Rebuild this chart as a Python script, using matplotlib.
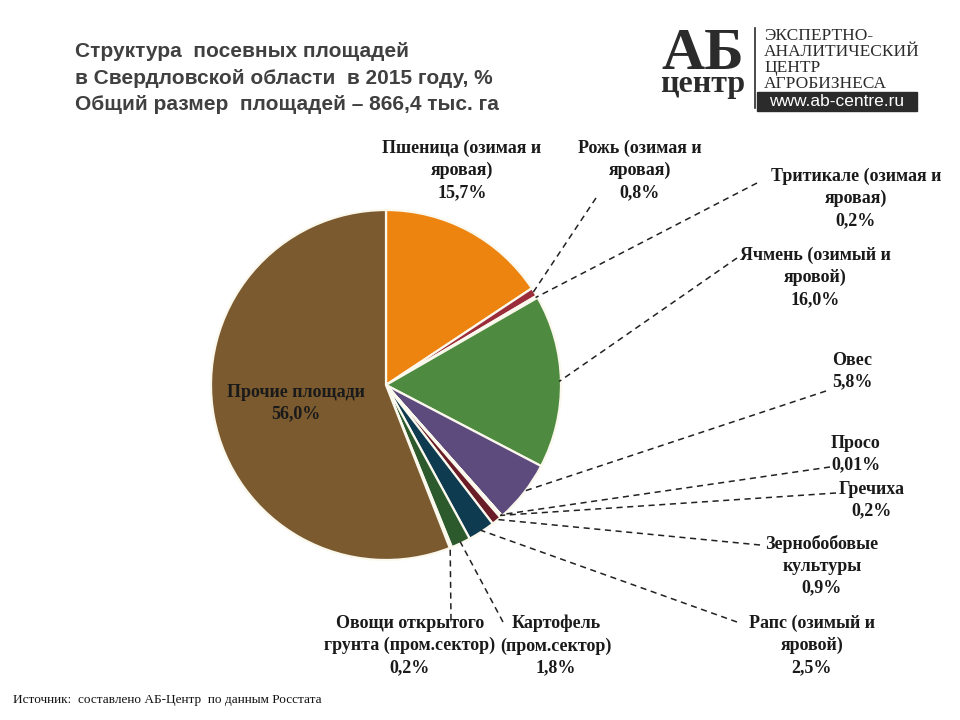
import numpy as np
import matplotlib
matplotlib.use("Agg")
from matplotlib import pyplot as plt
from matplotlib.patches import Rectangle

# data
labels = ['Пшеница (озимая и\nяровая)', 'Рожь (озимая и\nяровая)', 'Тритикале (озимая и\nяровая)',
          'Ячмень (озимый и\nяровой)', 'Овес', 'Просо', 'Гречиха', 'Зернобобовые\nкультуры',
          'Рапс (озимый и\nяровой)', 'Картофель\n(пром.сектор)', 'Овощи открытого\nгрунта (пром.сектор)',
          'Прочие площади']
values = [15.7, 0.8, 0.2, 16.0, 5.8, 0.01, 0.2, 0.9, 2.5, 1.8, 0.2, 56.0]
pct_text = ['15,7%', '0,8%', '0,2%', '16,0%', '5,8%', '0,01%', '0,2%', '0,9%', '2,5%', '1,8%', '0,2%', '56,0%']
colors = ['#ee8410', '#9b2d3a', '#f4efe0', '#4e8a3f', '#5e4b7d', '#f4efe0', '#f4efe0', '#6a1d26',
          '#0f3b50', '#2d5a2d', '#f4efe0', '#7a5a2e']

# label text centre (x, top y) in pixels, leader start point (None = no line)
label_pos = [(462, 140), (640, 140), (856, 168), (815, 247), (852, 352), (856, 435),
             (872, 481), (822, 535), (812, 615), (556, 615), (410, 615), (296, 384)]
leader_from = [None, (596, 198), (757, 183), (737, 258), (826, 391), (830, 467),
               (836, 493), (760, 545), (737, 622), (503, 622), (451, 620), None]

W, H = 960, 720
cx, cy, R = 386, H - 385, 175

fig = plt.figure(figsize=(9.6, 7.2), dpi=100)
ax = fig.add_axes([0, 0, 1, 1])

wedges, _ = ax.pie(values, colors=colors, startangle=90, counterclock=False,
                   center=(cx, cy), radius=R,
                   wedgeprops=dict(edgecolor='#fbf8ee', linewidth=1.6))
ax.set_xlim(0, W)
ax.set_ylim(0, H)
ax.set_aspect('equal')
ax.axis('off')

serif = ['Liberation Serif', 'DejaVu Serif']
for i, w in enumerate(wedges):
    x, y = label_pos[i]
    ax.text(x, H - y, labels[i] + '\n' + pct_text[i], ha='center', va='top',
            fontsize=13, fontweight='bold', family=serif, color='#1a1a1a', linespacing=1.36)
    if leader_from[i] is not None:
        ang = np.deg2rad((w.theta1 + w.theta2) / 2)
        ex, ey = cx + R * 0.99 * np.cos(ang), cy + R * 0.99 * np.sin(ang)
        lx, ly = leader_from[i]
        ax.plot([lx, ex], [H - ly, ey], ls=(0, (4, 3)), color='#222222', lw=1.1)

# title
ax.text(75, H - 42, 'Структура  посевных площадей\nв Свердловской области  в 2015 году, %\n'
        'Общий размер  площадей – 866,4 тыс. га', ha='left', va='top', fontsize=15,
        fontweight='bold', family=['Liberation Sans', 'DejaVu Sans'], color='#404040',
        linespacing=1.5)

# logo
ax.text(703, H - 69, 'АБ', ha='center', va='baseline', fontsize=43, fontweight='bold',
        family=serif, color='#2b2b2b')
ax.text(703, H - 92, 'центр', ha='center', va='baseline', fontsize=23, fontweight='bold',
        family=serif, color='#2b2b2b')
ax.plot([755, 755], [H - 28, H - 108], color='#2b2b2b', lw=1.2)
ax.text(764, H - 28, 'ЭКСПЕРТНО-\nАНАЛИТИЧЕСКИЙ\nЦЕНТР\nАГРОБИЗНЕСА', ha='left', va='top',
        fontsize=12.5, family=serif, color='#2b2b2b', linespacing=1.0)
ax.add_patch(Rectangle((757, H - 111), 160, 19, color='#2b2b2b'))
ax.text(837, H - 101.5, 'www.ab-centre.ru', ha='center', va='center', fontsize=12.5,
        family=['Liberation Sans', 'DejaVu Sans'], color='white')

# source
ax.text(13, H - 700, 'Источник:  составлено АБ-Центр  по данным Росстата', ha='left', va='center',
        fontsize=9.5, family=serif, color='#111111')

plt.savefig('out.png', dpi=100)
